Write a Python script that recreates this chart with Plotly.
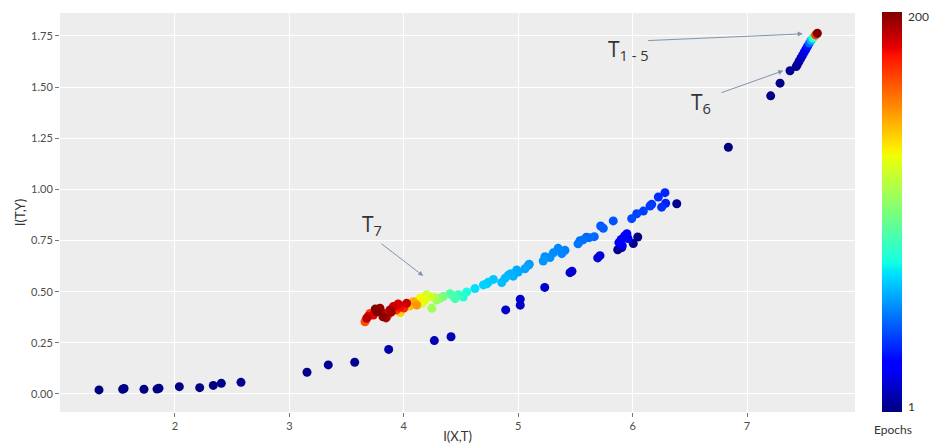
import plotly.graph_objects as go

# ---- data: (I(X,T), I(T,Y), epoch) ----
x_lower = [1.336, 1.543, 1.555, 1.729, 1.843, 1.860, 2.038, 2.216, 2.335, 2.405, 2.577,
           3.154, 3.340, 3.571, 3.868, 4.267, 4.413, 4.891, 5.018, 5.018, 5.232, 5.453,
           5.470, 5.695, 5.715, 6.386]
y_lower = [0.020, 0.023, 0.027, 0.023, 0.024, 0.028, 0.036, 0.031, 0.042, 0.052, 0.057,
           0.106, 0.142, 0.155, 0.218, 0.261, 0.280, 0.411, 0.463, 0.434, 0.521, 0.593,
           0.600, 0.665, 0.676, 0.930]
e_lower = [1, 1, 2, 1, 1, 2, 1, 1, 2, 2, 3,
           3, 4, 4, 8, 10, 10, 13, 14, 14, 14, 15,
           15, 16, 17, 3]

x_cluster = [5.880, 5.900, 5.930, 5.950, 5.910, 5.870, 5.905, 6.006, 6.045, 5.960]
y_cluster = [0.740, 0.755, 0.772, 0.783, 0.725, 0.705, 0.715, 0.735, 0.767, 0.760]
e_cluster = [22, 24, 23, 25, 20, 3, 4, 3, 2, 21]

x_upper = [6.283, 6.225, 6.167, 6.152, 6.289, 6.254, 6.094, 6.036, 5.992, 5.831,
           5.744, 5.721, 5.665, 5.620, 5.596, 5.567, 5.540, 5.523, 5.409, 5.381,
           5.349, 5.307, 5.278, 5.234, 5.219, 5.097, 5.088, 5.059, 5.000, 4.987,
           4.957, 4.934, 4.913, 4.885, 4.856, 4.783, 4.739, 4.725, 4.696, 4.622]
y_upper = [0.984, 0.963, 0.927, 0.919, 0.932, 0.913, 0.894, 0.881, 0.857, 0.846,
           0.810, 0.821, 0.769, 0.764, 0.766, 0.753, 0.749, 0.734, 0.702, 0.686,
           0.712, 0.690, 0.667, 0.671, 0.650, 0.634, 0.629, 0.612, 0.596, 0.606,
           0.576, 0.588, 0.580, 0.566, 0.545, 0.560, 0.546, 0.539, 0.533, 0.515]
e_upper = [33, 34, 36, 37, 32, 35, 38, 39, 40, 42,
           44, 43, 46, 47, 46, 48, 48, 49, 51, 52,
           52, 53, 54, 54, 55, 57, 57, 58, 59, 59,
           60, 61, 61, 62, 63, 65, 66, 66, 67, 69]

x_mid = [4.550, 4.520, 4.477, 4.448, 4.404, 4.430,
         4.346, 4.317, 4.288, 4.245, 4.270,
         4.229, 4.200, 4.185, 4.142, 4.156,
         4.113, 4.084, 4.050, 3.970,
         4.025, 3.981, 3.908, 3.879, 3.836, 3.792, 3.763, 3.734, 3.705, 3.676,
         3.661, 3.818, 3.935, 3.862, 3.960, 3.890, 3.750, 3.800, 3.690, 3.950,
         4.000, 3.845]
y_mid = [0.499, 0.474, 0.485, 0.466, 0.490, 0.480,
         0.476, 0.468, 0.459, 0.419, 0.470,
         0.476, 0.485, 0.459, 0.468, 0.443,
         0.435, 0.451, 0.430, 0.398,
         0.443, 0.430, 0.427, 0.411, 0.394, 0.419, 0.402, 0.386, 0.394, 0.370,
         0.353, 0.377, 0.411, 0.386, 0.425, 0.400, 0.415, 0.400, 0.380, 0.440,
         0.420, 0.372]
e_mid = [76, 80, 83, 86, 90, 88,
         98, 102, 106, 110, 112,
         122, 120, 126, 130, 124,
         150, 146, 142, 138,
         188, 176, 186, 192, 178, 196, 200, 182, 170, 190,
         166, 198, 172, 162, 180, 194, 199, 191, 184, 185,
         174, 193]

x_top = [6.837, 7.207, 7.289, 7.376, 7.430, 7.440, 7.455, 7.470, 7.485, 7.500,
         7.515, 7.530, 7.545, 7.560, 7.575, 7.585, 7.600, 7.615]
y_top = [1.206, 1.457, 1.519, 1.580, 1.600, 1.610, 1.625, 1.640, 1.655, 1.670,
         1.685, 1.700, 1.715, 1.728, 1.738, 1.745, 1.755, 1.763]
e_top = [1, 2, 2, 3, 4, 5, 7, 10, 14, 18,
         22, 30, 45, 60, 75, 90, 170, 200]

epoch_min, epoch_max = 1, 200

xs = x_lower + x_cluster + x_upper + x_mid + x_top
ys = y_lower + y_cluster + y_upper + y_mid + y_top
es = e_lower + e_cluster + e_upper + e_mid + e_top
order = sorted(range(len(es)), key=lambda i: es[i])
xs = [xs[i] for i in order]
ys = [ys[i] for i in order]
es = [es[i] for i in order]

# matplotlib-like jet
jet = [
    [0.0, "rgb(0,0,128)"], [0.11, "rgb(0,0,255)"], [0.125, "rgb(0,0,255)"],
    [0.34, "rgb(0,219,255)"], [0.35, "rgb(0,230,247)"], [0.375, "rgb(21,255,226)"],
    [0.64, "rgb(239,255,8)"], [0.65, "rgb(247,245,0)"], [0.66, "rgb(255,236,0)"],
    [0.89, "rgb(255,19,0)"], [0.91, "rgb(232,0,0)"], [1.0, "rgb(128,0,0)"],
]

fig = go.Figure()
fig.add_trace(go.Scatter(
    x=xs, y=ys, mode="markers",
    marker=dict(
        size=9, color=es, colorscale=jet, cmin=epoch_min, cmax=epoch_max,
        line=dict(width=0),
        colorbar=dict(
            x=1.0314, xanchor="left", y=0, yanchor="bottom",
            lenmode="pixels", len=400, thickness=20, xpad=2, ypad=0,
            showticklabels=False, ticks="",
            outlinewidth=0,
        ),
    ),
    showlegend=False, hoverinfo="skip",
))

arrow_color = "#7f93ad"
anns = [
    # (head x, head y, tail x, tail y)
    (7.487, 1.760, 6.123, 1.727),
    (7.317, 1.580, 6.764, 1.470),
    (4.170, 0.577, 3.792, 0.740),
]
for hx, hy, tx, ty in anns:
    fig.add_annotation(x=hx, y=hy, ax=tx, ay=ty, xref="x", yref="y",
                       axref="x", ayref="y", text="", showarrow=True,
                       arrowhead=2, arrowsize=1, arrowwidth=1, arrowcolor=arrow_color)

labels = [
    ("T<sub>1 - 5</sub>", 5.767, 1.681),
    ("T<sub>6</sub>", 6.493, 1.422),
    ("T<sub>7</sub>", 3.617, 0.826),
]
for txt, lx, ly in labels:
    fig.add_annotation(x=lx, y=ly, xref="x", yref="y", text=txt, showarrow=False,
                       xanchor="left", yanchor="middle",
                       font=dict(family="Open Sans", size=21, color="#333333"))

# colorbar end labels and caption
cb_font = dict(family="Lato", size=12, color="#333333")
fig.add_annotation(x=1.0642, y=0.99, xref="paper", yref="paper", text=str(epoch_max),
                   showarrow=False, xanchor="left", yanchor="middle", font=cb_font)
fig.add_annotation(x=1.0642, y=0.015, xref="paper", yref="paper", text=str(epoch_min),
                   showarrow=False, xanchor="left", yanchor="middle", font=cb_font)
fig.add_annotation(x=1.0478, y=-0.045, xref="paper", yref="paper", text="Epochs",
                   showarrow=False, xanchor="center", yanchor="middle", font=cb_font)

axis_font = dict(family="Lato", size=11, color="#4d4d4d")
fig.update_layout(
    width=930, height=444,
    margin=dict(l=60, r=75, t=13, b=32),
    paper_bgcolor="white", plot_bgcolor="#ededed",
    xaxis=dict(range=[0.995, 7.944], tickvals=[2, 3, 4, 5, 6, 7], automargin=False,
               showgrid=True, gridcolor="white", gridwidth=1, zeroline=False,
               ticks="outside", ticklen=4, tickcolor="#777777", tickfont=axis_font,
               title=dict(text="I(X,T)", standoff=2,
                          font=dict(family="Lato", size=13, color="#333333"))),
    yaxis=dict(range=[-0.088, 1.862], tickvals=[0, 0.25, 0.5, 0.75, 1.0, 1.25, 1.5, 1.75],
               tickformat=".2f", automargin=False,
               showgrid=True, gridcolor="white", gridwidth=1, zeroline=False,
               ticks="outside", ticklen=4, tickcolor="#777777", tickfont=axis_font,
               title=dict(text="I(T,Y)", standoff=2,
                          font=dict(family="Lato", size=13, color="#333333"))),
)

fig.write_html("out.html")
